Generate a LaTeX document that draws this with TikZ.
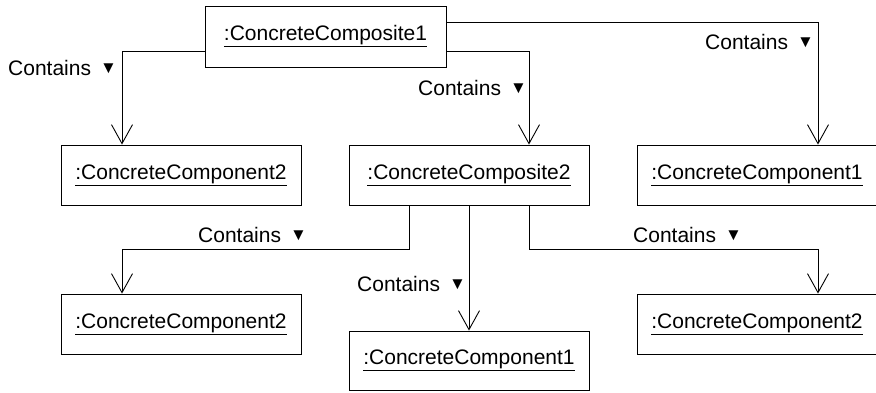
\documentclass[tikz,border=0pt]{standalone}
\usepackage{fontspec}
\setmainfont{Liberation Sans}
\usetikzlibrary{arrows.meta}
\newcommand{\tri}{{\fontsize{17}{17}\selectfont\raisebox{1.5pt}{▼}}}
\begin{document}
\begin{tikzpicture}[x=1pt,y=-1pt,
  obj/.style={draw, line width=0.9pt, minimum width=240pt, minimum height=60pt,
    inner sep=0pt, font=\fontsize{21}{24}\selectfont},
  conn/.style={line width=0.9pt, -{Straight Barb[length=19pt,width=21pt,line width=0.9pt]}},
  lbl/.style={anchor=base west, inner sep=0pt, font=\fontsize{21}{24}\selectfont}]
\useasboundingbox (0,0) rectangle (876,392);

% objects
\node[obj, minimum width=241pt, minimum height=61pt] (c1) at (325.5,36.5) {\underline{:ConcreteComposite1}};
\node[obj] (k2a) at (181,175) {\underline{:ConcreteComponent2}};
\node[obj] (c2)  at (469,175) {\underline{:ConcreteComposite2}};
\node[obj] (k1a) at (757,175) {\underline{:ConcreteComponent1}};
\node[obj] (k2b) at (181,324) {\underline{:ConcreteComponent2}};
\node[obj, minimum height=59pt] (k1b) at (469,360.5) {\underline{:ConcreteComponent1}};
\node[obj] (k2c) at (757,324) {\underline{:ConcreteComponent2}};

% containment links
\draw[conn] ([yshift=-14.5pt]c1.west) -| ([xshift=-59pt]k2a.north);
\draw[conn] ([yshift=-14.5pt]c1.east) -| ([xshift=60pt]c2.north);
\draw[conn] ([yshift=14.5pt]c1.east) -| ([xshift=61pt]k1a.north);
\draw[conn] ([xshift=-60pt]c2.south) -- ++(0,44) -| ([xshift=-59pt]k2b.north);
\draw[conn] (c2.south) -- (k1b.north);
\draw[conn] ([xshift=60pt]c2.south) -- ++(0,44) -| ([xshift=61pt]k2c.north);

% link labels
\node[lbl] (l1) at (8,75)   {Contains\hspace{9pt}\tri};
\node[lbl] (l2) at (418,95) {Contains\hspace{9pt}\tri};
\node[lbl] (l3) at (705,49) {Contains\hspace{9pt}\tri};
\node[lbl] (l4) at (198,242) {Contains\hspace{9pt}\tri};
\node[lbl] (l5) at (357,291) {Contains\hspace{9pt}\tri};
\node[lbl] (l6) at (633,242) {Contains\hspace{9pt}\tri};
\end{tikzpicture}
\end{document}
